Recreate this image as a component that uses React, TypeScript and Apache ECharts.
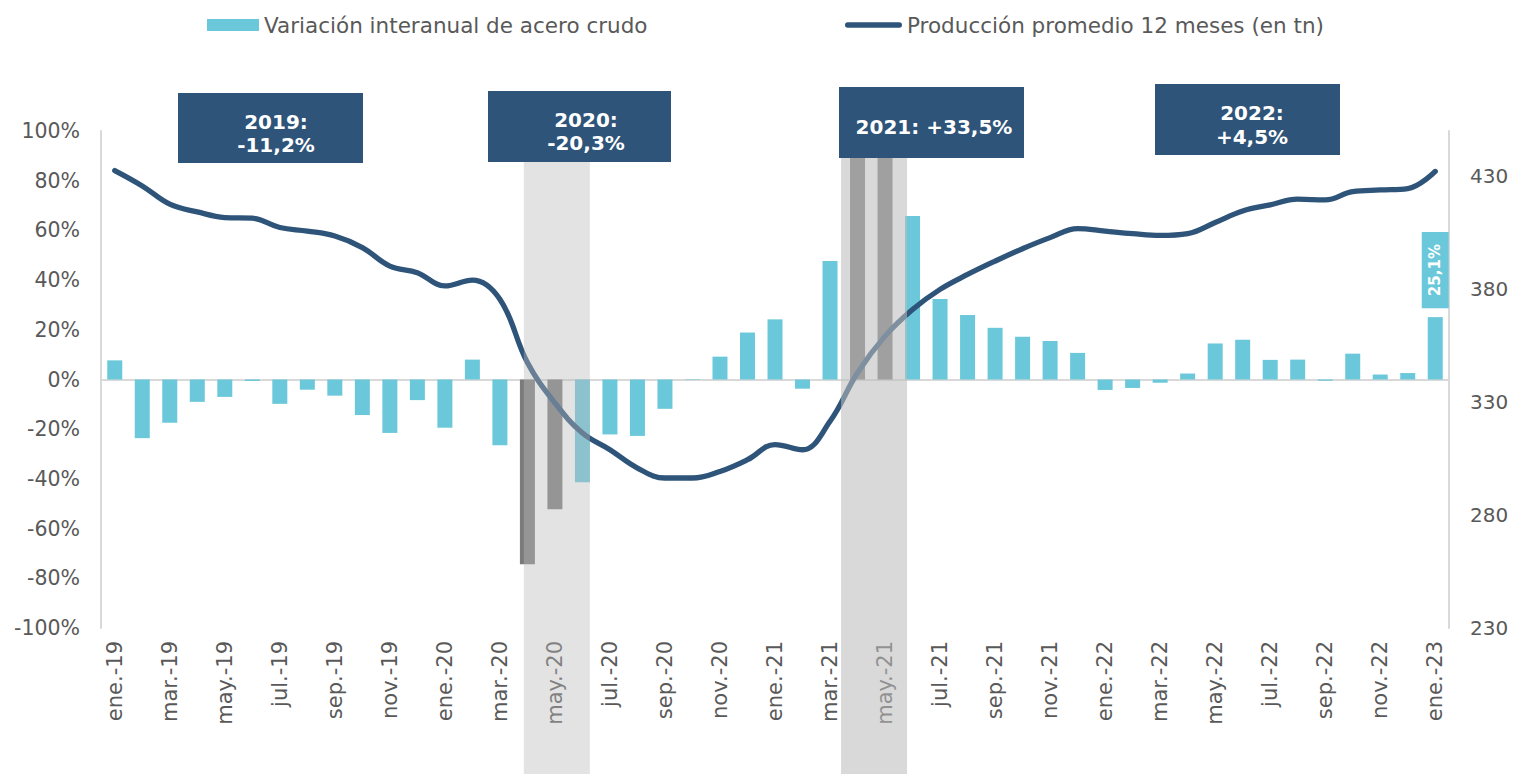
import React, { useEffect, useRef } from "react";
import * as echarts from "echarts";

const categories = [
  "ene.-19", "feb.-19", "mar.-19", "abr.-19", "may.-19", "jun.-19", "jul.-19", "ago.-19", "sep.-19", "oct.-19", "nov.-19", "dic.-19",
  "ene.-20", "feb.-20", "mar.-20", "abr.-20", "may.-20", "jun.-20", "jul.-20", "ago.-20", "sep.-20", "oct.-20", "nov.-20", "dic.-20",
  "ene.-21", "feb.-21", "mar.-21", "abr.-21", "may.-21", "jun.-21", "jul.-21", "ago.-21", "sep.-21", "oct.-21", "nov.-21", "dic.-21",
  "ene.-22", "feb.-22", "mar.-22", "abr.-22", "may.-22", "jun.-22", "jul.-22", "ago.-22", "sep.-22", "oct.-22", "nov.-22", "dic.-22",
  "ene.-23",
];

// Variación interanual de acero crudo (%)
const variacion = [
  7.7, -23.6, -17.4, -9.0, -7.0, -0.6, -9.8, -4.1, -6.5, -14.3, -21.5, -8.3,
  -19.4, 8.0, -26.5, -74.3, -52.2, -41.3, -22.1, -22.7, -11.8, 0.2, 9.2, 18.9,
  24.2, -3.7, 47.7, 150, 120, 65.8, 32.4, 26.0, 20.8, 17.2, 15.5, 10.7,
  -4.2, -3.4, -1.3, 2.4, 14.5, 16.0, 7.9, 8.0, -0.5, 10.4, 2.0, 2.6,
  25.1,
];

// Producción promedio 12 meses (en tn)
const produccion = [
  432.5, 425.7, 417.6, 414.2, 411.7, 411.4, 407.3, 405.7, 403.5, 398.4, 390.2, 387.3,
  381.4, 384.0, 375.5, 347.5, 329.6, 316.3, 308.9, 300.8, 296.4, 296.4, 299.3, 304.5,
  311.2, 308.9, 321.5, 343.0, 359.2, 371.0, 379.9, 386.5, 392.4, 397.9, 402.8, 406.8,
  405.7, 404.6, 403.8, 404.6, 409.5, 414.6, 417.3, 419.8, 419.5, 423.2, 423.9, 424.5,
  432.1,
];

const grayMonths = ["abr.-20", "may.-20", "abr.-21", "may.-21"];
const labeledMonths = ["ene.-23"];

const barName = "Variación interanual de acero crudo";
const lineName = "Producción promedio 12 meses (en tn)";

const annotationTexts = ["2019:\n-11,2%", "2020:\n-20,3%", "2021: +33,5%", "2022:\n+4,5%"];

// Shaded periods (first month, last month)
const shadedPeriods = [
  ["abr.-20", "jun.-20"],
  ["abr.-21", "may.-21"],
];

const CYAN = "#6ac8da";
const GRAY = "#7b7b7d";
const NAVY = "#2e5479";
const TXT = "#595959";
const FONT = "DejaVu Sans";

export default function App() {
  const ref = useRef<HTMLDivElement>(null);

  useEffect(() => {
    const el = ref.current!;
    const chart = echarts.init(el, undefined, { renderer: "svg" });

    const barData = variacion.map((v, i) => {
      const cat = categories[i];
      const item: any = { value: v };
      if (grayMonths.includes(cat)) item.itemStyle = { color: GRAY };
      if (labeledMonths.includes(cat)) {
        item.label = {
          show: true,
          position: "top",
          rotate: 90,
          align: "left",
          verticalAlign: "middle",
          distance: 9,
          formatter: (p: any) => String(p.value).replace(".", ",") + "%",
          color: "#ffffff",
          fontWeight: "bold",
          fontSize: 15,
          fontFamily: FONT,
          lineHeight: 17,
          backgroundColor: CYAN,
          padding: [5, 12, 5, 12],
        };
      }
      return item;
    });

    const option: any = {
      animation: false,
      textStyle: { fontFamily: FONT },
      legend: [
        {
          left: 207,
          top: 14,
          padding: 0,
          itemWidth: 52,
          itemHeight: 12,
          data: [{ name: barName, icon: "rect" }],
          textStyle: { color: TXT, fontSize: 21.5, fontFamily: FONT },
          selectedMode: false,
        },
        {
          left: 845,
          top: 14,
          padding: 0,
          itemWidth: 57,
          itemHeight: 12,
          data: [
            {
              name: lineName,
              icon: "path://M2.65,0 L54.35,0 A2.65,2.65 0 0 1 54.35,5.3 L2.65,5.3 A2.65,2.65 0 0 1 2.65,0 Z",
            },
          ],
          textStyle: { color: TXT, fontSize: 21.5, fontFamily: FONT },
          selectedMode: false,
        },
      ],
      grid: { left: 101, right: 67, top: 131, bottom: 146, containLabel: false },
      xAxis: {
        type: "category",
        data: categories,
        boundaryGap: true,
        axisLine: { show: false },
        axisTick: { show: false },
        axisLabel: {
          interval: 1,
          rotate: 90,
          margin: 13,
          color: TXT,
          fontSize: 21,
          fontFamily: FONT,
        },
      },
      yAxis: [
        {
          type: "value",
          min: -100,
          max: 100,
          interval: 20,
          splitLine: { show: false },
          axisTick: { show: false },
          axisLine: { show: true, lineStyle: { color: "#d9d9d9", width: 2 } },
          axisLabel: { formatter: "{value}%", color: TXT, fontSize: 20.5, margin: 21, fontFamily: FONT },
        },
        {
          type: "value",
          position: "right",
          min: 230,
          max: 450,
          interval: 50,
          splitLine: { show: false },
          axisTick: { show: false },
          axisLine: { show: true, lineStyle: { color: "#d9d9d9", width: 2 } },
          axisLabel: { showMaxLabel: false, color: TXT, fontSize: 20, margin: 21, fontFamily: FONT },
        },
      ],
      series: [
        {
          name: barName,
          type: "bar",
          yAxisIndex: 0,
          data: barData,
          barWidth: 15,
          clip: true,
          itemStyle: { color: CYAN },
          color: CYAN,
          z: 2,
          markLine: {
            silent: true,
            symbol: ["none", "none"],
            label: { show: false },
            lineStyle: { color: "#d9d9d9", width: 2, type: "solid" },
            data: [{ yAxis: 0 }],
            z: 1,
          },
        },
        {
          name: lineName,
          type: "line",
          yAxisIndex: 1,
          data: produccion,
          smooth: 0.4,
          symbol: "none",
          color: NAVY,
          itemStyle: { color: NAVY },
          lineStyle: { color: NAVY, width: 5.3, cap: "round", join: "round" },
          z: 3,
        },
      ],
    };

    chart.setOption(option);

    const px = (cat: string) => chart.convertToPixel({ xAxisIndex: 0 }, cat) as unknown as number;
    const bw = px(categories[1]) - px(categories[0]);
    const shadeOffsets = [
      [-0.13, 0.27, "rgba(186,186,186,0.41)"],
      [-0.6, 0.8, "rgba(188,188,188,0.57)"],
    ];
    const shadeRects = shadedPeriods.map((p, k) => {
      const x0 = px(p[0]) + (shadeOffsets[k][0] as number) * bw;
      const x1 = px(p[1]) + (shadeOffsets[k][1] as number) * bw;
      return {
        type: "rect",
        z: 50,
        silent: true,
        shape: { x: x0, y: 140, width: x1 - x0, height: 774 - 140 },
        style: { fill: shadeOffsets[k][2] as string },
      };
    });

    const boxGeom = [
      { x: 178, y: 93, w: 185, h: 70, tx: 276, ty: 133.5 },
      { x: 488, y: 91, w: 183, h: 71, tx: 586, ty: 131.5 },
      { x: 839, y: 87, w: 185, h: 71, tx: 934, ty: 127 },
      { x: 1155, y: 84, w: 185, h: 71, tx: 1252, ty: 125 },
    ];
    const boxes: any[] = [];
    annotationTexts.forEach((t, i) => {
      const g = boxGeom[i];
      boxes.push({
        type: "rect",
        z: 60,
        silent: true,
        shape: { x: g.x, y: g.y, width: g.w, height: g.h },
        style: { fill: NAVY },
      });
      boxes.push({
        type: "text",
        z: 61,
        silent: true,
        x: g.tx,
        y: g.ty,
        style: {
          text: t,
          fill: "#ffffff",
          fontSize: 20,
          fontWeight: "bold",
          fontFamily: FONT,
          align: "center",
          verticalAlign: "middle",
          lineHeight: 23.5,
        },
      });
    });

    chart.setOption({ graphic: [...shadeRects, ...boxes] });

    return () => chart.dispose();
  }, []);

  return (
    <div
      ref={ref}
      style={{ position: "absolute", left: 0, top: 0, width: 1516, height: 774 }}
    />
  );
}
